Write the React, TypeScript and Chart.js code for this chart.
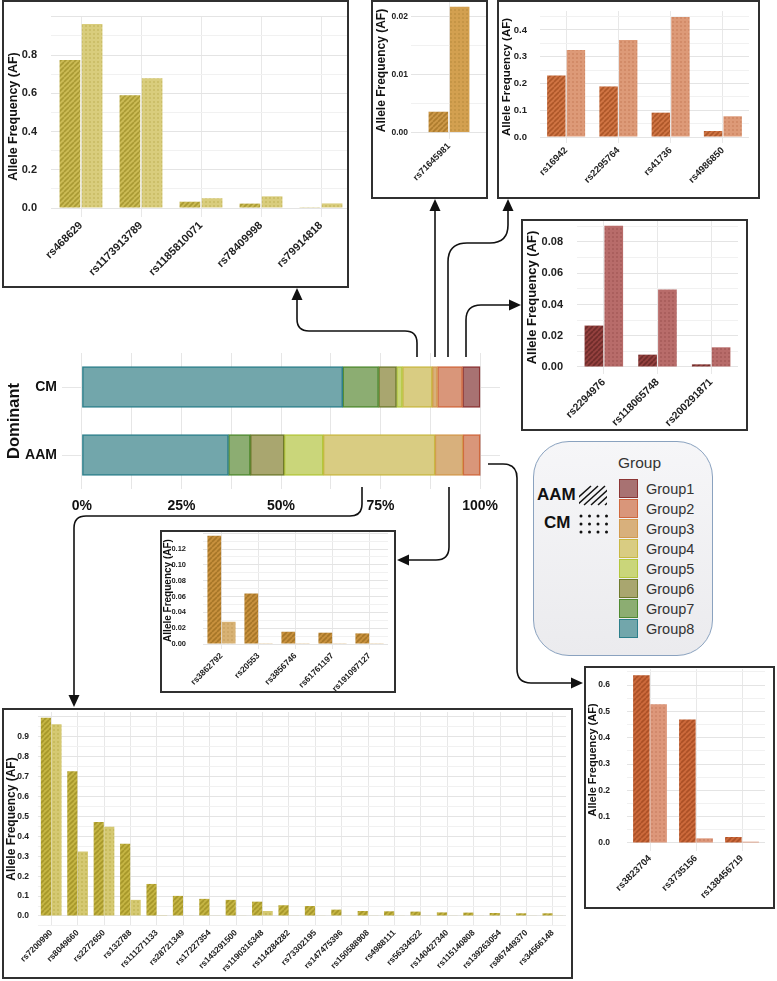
import React, { useEffect, useRef } from 'react';
import { Chart, registerables } from 'chart.js';
Chart.register(...registerables);

const FONT = "'Liberation Sans', Arial, Helvetica, sans-serif";

// ---------- Main stacked bar (share of SNPs per group, %) ----------
const stackRows = ['CM', 'AAM'];
const stackGroups = ['Group8', 'Group7', 'Group6', 'Group5', 'Group4', 'Group3', 'Group2', 'Group1'];
const cmShare = [65.5, 9.0, 4.5, 1.5, 7.5, 1.3, 6.3, 4.4];
const aamShare = [36.8, 5.5, 8.5, 9.8, 28.1, 7.0, 4.3, 0];
const percentTicks = [0, 25, 50, 75, 100];

// ---------- Legend ----------
const legendGroups = ['Group1', 'Group2', 'Group3', 'Group4', 'Group5', 'Group6', 'Group7', 'Group8'];
const groupFill = ['#a87272', '#d9967a', '#d8b07c', '#d9cc82', '#cad67a', '#a9a66f', '#8cad72', '#72a6ab'];
const groupEdge = ['#8c3535', '#d0683e', '#d39a4e', '#c9b843', '#b3c63c', '#6f7a2c', '#4f8a30', '#2d7f8b'];

// ---------- Allele frequency panels ----------
const tlSnps = ['rs468629', 'rs1173913789', 'rs1185810071', 'rs78409998', 'rs79914818'];
const tlAAM = [0.774, 0.589, 0.033, 0.023, 0.004];
const tlCM = [0.962, 0.679, 0.051, 0.061, 0.024];

const tmSnps = ['rs71645981'];
const tmAAM = [0.0036];
const tmCM = [0.0217];

const trSnps = ['rs16942', 'rs2295764', 'rs41736', 'rs4986850'];
const trAAM = [0.23, 0.189, 0.091, 0.0225];
const trCM = [0.325, 0.3625, 0.449, 0.0775];

const mrSnps = ['rs2294976', 'rs118065748', 'rs200291871'];
const mrAAM = [0.0265, 0.0079, 0.0017];
const mrCM = [0.0904, 0.0495, 0.0126];

const msSnps = ['rs3862792', 'rs20553', 'rs3856746', 'rs61761197', 'rs191097127'];
const msAAM = [0.1368, 0.0638, 0.0155, 0.0143, 0.0134];
const msCM = [0.0281, 0.001, 0.001, 0.001, 0.001];

const blSnps = ['rs7200990', 'rs8049660', 'rs2272650', 'rs132788', 'rs111271133', 'rs28721349', 'rs17227354',
  'rs143291500', 'rs1190316348', 'rs114284282', 'rs73302195', 'rs147475396', 'rs150588908', 'rs4988111',
  'rs56334522', 'rs140427340', 'rs115140808', 'rs139263054', 'rs867449370', 'rs34566148'];
const blAAM = [0.996, 0.727, 0.472, 0.363, 0.161, 0.101, 0.086, 0.081, 0.072, 0.054, 0.05, 0.032, 0.025,
  0.0235, 0.022, 0.018, 0.017, 0.015, 0.0135, 0.0135];
const blCM = [0.964, 0.324, 0.448, 0.081, 0.004, 0.003, 0.003, 0.003, 0.025, 0.003, 0.002, 0.002, 0.002,
  0.002, 0.002, 0.002, 0.002, 0.002, 0.002, 0.002];

const brSnps = ['rs3823704', 'rs3735156', 'rs138456719'];
const brAAM = [0.637, 0.469, 0.0227];
const brCM = [0.527, 0.0177, 0.005];

function makeHatch(base: string, stripe: string, size = 5, lw = 1.6) {
  const c = document.createElement('canvas');
  c.width = size; c.height = size;
  const g = c.getContext('2d')!;
  g.fillStyle = base; g.fillRect(0, 0, size, size);
  g.strokeStyle = stripe; g.lineWidth = lw;
  g.beginPath();
  for (const k of [-size, 0, size]) { g.moveTo(k, size); g.lineTo(k + size, 0); }
  g.stroke();
  return g.createPattern(c, 'repeat')!;
}
function makeDots(base: string, dot: string, size = 4, r = 0.8) {
  const c = document.createElement('canvas');
  c.width = size; c.height = size;
  const g = c.getContext('2d')!;
  g.fillStyle = base; g.fillRect(0, 0, size, size);
  g.fillStyle = dot; g.beginPath(); g.arc(size / 2, size / 2, r, 0, Math.PI * 2); g.fill();
  return g.createPattern(c, 'repeat')!;
}

type PanelProps = {
  box: number[]; plot: number[];
  labels: string[]; aam: number[]; cm: number[];
  yMin: number; yMax: number; minor: number; major: number; labelMax: number; decimals: number;
  aamCol: string[]; cmCol: string[];
  yFont: number; xFont: number; titleFont: number; titlePad: number; tickPad: number;
  catPct: number; barPct: number;
};

function AFPanel(p: PanelProps) {
  const ref = useRef<HTMLCanvasElement>(null);
  const [L, T, R, B] = p.box;
  const bw = 2;
  const iL = L + bw, iT = T + bw, iB = B - bw;
  const cTop = iT - 30;
  const cw = Math.ceil(p.plot[2] - iL);
  const ch = iB - cTop;
  useEffect(() => {
    const isMajor = (v: number) => Math.abs(v / p.major - Math.round(v / p.major)) < 1e-6;
    const chart = new Chart(ref.current!, {
      type: 'bar',
      data: {
        labels: p.labels,
        datasets: [
          { label: 'AAM', data: p.aam, backgroundColor: makeHatch(p.aamCol[0], p.aamCol[1]), borderWidth: 0,
            categoryPercentage: p.catPct, barPercentage: p.barPct },
          { label: 'CM', data: p.cm, backgroundColor: makeDots(p.cmCol[0], p.cmCol[1]), borderWidth: 0,
            categoryPercentage: p.catPct, barPercentage: p.barPct },
        ],
      },
      options: {
        responsive: false, animation: false, devicePixelRatio: 1,
        layout: { padding: { top: p.plot[1] - cTop, left: 0, right: 0, bottom: 0 } },
        plugins: { legend: { display: false }, tooltip: { enabled: false } },
        scales: {
          x: {
            type: 'category',
            grid: { offset: false, color: '#e8e8e8', drawTicks: false },
            border: { display: false },
            ticks: { autoSkip: false, maxRotation: 45, minRotation: 45, padding: 2, color: '#222',
              font: { family: FONT, size: p.xFont, weight: 'bold' } },
            afterFit: (s: any) => { s.height = iB - p.plot[3]; },
          },
          y: {
            min: p.yMin, max: p.yMax,
            grid: {
              drawTicks: false,
              color: (c: any) => (c.tick && isMajor(c.tick.value) ? '#e4e4e4' : '#f1f1f1'),
            },
            border: { display: false },
            ticks: {
              stepSize: p.minor, includeBounds: false, autoSkip: false, padding: p.tickPad, color: '#222',
              font: { family: FONT, size: p.yFont, weight: 'bold' },
              callback: (v: any) => (isMajor(v) && v <= p.labelMax + 1e-9 ? Number(v).toFixed(p.decimals) : ''),
            },
            title: { display: true, text: 'Allele Frequency (AF)', color: '#111',
              font: { family: FONT, size: p.titleFont, weight: 'bold' }, padding: { top: p.titlePad, bottom: 0 } },
            afterFit: (s: any) => { s.width = p.plot[0] - iL; },
          },
        },
      } as any,
    });
    return () => chart.destroy();
  }, []);
  return (
    <div style={{ position: 'absolute', left: L, top: T, width: R - L, height: B - T, boxSizing: 'border-box',
      border: '2px solid #303030', overflow: 'hidden', background: '#fff' }}>
      <canvas ref={ref} width={cw} height={ch}
        style={{ position: 'absolute', left: 0, top: cTop - iT, width: cw, height: ch }} />
    </div>
  );
}

function StackChart() {
  const ref = useRef<HTMLCanvasElement>(null);
  useEffect(() => {
    const chart = new Chart(ref.current!, {
      type: 'bar',
      data: {
        labels: stackRows,
        datasets: stackGroups.map((g, i) => {
          const gi = legendGroups.indexOf(g);
          return {
            label: g, data: [cmShare[i], aamShare[i]],
            backgroundColor: groupFill[gi], borderColor: groupEdge[gi],
            borderWidth: (c: any) => (c.raw ? 1.5 : 0), borderSkipped: false, barThickness: 41,
          };
        }),
      },
      options: {
        indexAxis: 'y', responsive: false, animation: false, devicePixelRatio: 1,
        layout: { padding: { top: 23, right: 30, left: 0, bottom: 0 } },
        plugins: { legend: { display: false }, tooltip: { enabled: false } },
        scales: {
          x: {
            type: 'linear', stacked: true, min: -5, max: 105,
            grid: { color: '#e6e6e6', drawTicks: false }, border: { display: false },
            ticks: { stepSize: 12.5, includeBounds: false, autoSkip: false, maxRotation: 0, padding: 9, color: '#111',
              font: { family: FONT, size: 14, weight: 'bold' },
              callback: (v: any) => (percentTicks.includes(v) ? v + '%' : '') },
            afterFit: (s: any) => { s.height = 41; },
          },
          y: {
            type: 'category', stacked: true,
            grid: { offset: false, color: '#e6e6e6', drawTicks: false }, border: { display: false },
            ticks: { padding: 5, color: '#111', font: { family: FONT, size: 14, weight: 'bold' } },
            title: { display: true, text: 'Dominant', color: '#111',
              font: { family: FONT, size: 16.5, weight: 'bold' }, padding: { top: 5, bottom: 0 } },
            afterFit: (s: any) => { s.width = 62; },
          },
        },
      } as any,
    });
    return () => chart.destroy();
  }, []);
  return <canvas ref={ref} width={530} height={200}
    style={{ position: 'absolute', left: 0, top: 330, width: 530, height: 200 }} />;
}

function head(x: number, y: number, dir: 'up' | 'down' | 'left' | 'right') {
  const l = 12, w = 5.5;
  let pts = '';
  if (dir === 'up') pts = `${x},${y} ${x - w},${y + l} ${x + w},${y + l}`;
  if (dir === 'down') pts = `${x},${y} ${x - w},${y - l} ${x + w},${y - l}`;
  if (dir === 'left') pts = `${x},${y} ${x + l},${y - w} ${x + l},${y + w}`;
  if (dir === 'right') pts = `${x},${y} ${x - l},${y - w} ${x - l},${y + w}`;
  return <polygon points={pts} fill="#111" />;
}

function Arrows() {
  const paths = [
    'M417,357 V343 Q417,331 405,331 H309 Q297,331 297,319 V299',
    'M435,357 V210',
    'M448,357 V262 Q448,243 467,243 H490 Q508,243 508,225 V210',
    'M466,357 V320 Q466,305 481,305 H510',
    'M362,487 V504 Q362,516 350,516 H86 Q74,516 74,528 V696',
    'M449,487 V547 Q449,560 436,560 H408',
    'M488,464 H503 Q517,464 517,478 V669 Q517,683 531,683 H572',
  ];
  return (
    <svg width={777} height={981} style={{ position: 'absolute', left: 0, top: 0, pointerEvents: 'none', zIndex: 5 }}>
      {paths.map((d, i) => <path key={i} d={d} fill="none" stroke="#111" strokeWidth={1.6} />)}
      {head(297, 288, 'up')}
      {head(435, 199, 'up')}
      {head(508, 199, 'up')}
      {head(521, 305, 'right')}
      {head(74, 707, 'down')}
      {head(397, 560, 'left')}
      {head(583, 683, 'right')}
    </svg>
  );
}

function Legend() {
  const dots: React.ReactElement[] = [];
  for (let r = 0; r < 3; r++) for (let c = 0; c < 4; c++)
    dots.push(<circle key={`${r}-${c}`} cx={581 + c * 8.5} cy={516 + r * 8} r={1.5} fill="#111" />);
  const lines: React.ReactElement[] = [];
  for (let k = 0; k < 6; k++) {
    const x1 = 570 + k * 7;
    lines.push(<line key={k} x1={x1} y1={505} x2={x1 + 21} y2={486} stroke="#111" strokeWidth={1.5} />);
  }
  return (
    <>
      <div style={{ position: 'absolute', left: 533, top: 441, width: 180, height: 215, boxSizing: 'border-box',
        border: '1.5px solid #8aa2bf', borderRadius: 36, background: 'linear-gradient(#f6f6f8, #ebebee)', zIndex: 3 }} />
      <div style={{ position: 'absolute', left: 618, top: 454, fontFamily: FONT, fontSize: 15.5, color: '#333', zIndex: 4 }}>Group</div>
      {legendGroups.map((g, i) => (
        <React.Fragment key={g}>
          <div style={{ position: 'absolute', left: 619, top: 479 + i * 20, width: 19, height: 19, boxSizing: 'border-box',
            background: groupFill[i], border: `1.5px solid ${groupEdge[i]}`, zIndex: 4 }} />
          <div style={{ position: 'absolute', left: 646, top: 481 + i * 20, fontFamily: FONT, fontSize: 14.5,
            lineHeight: '17px', color: '#333', zIndex: 4 }}>{g}</div>
        </React.Fragment>
      ))}
      <div style={{ position: 'absolute', left: 537, top: 485, fontFamily: FONT, fontSize: 17, fontWeight: 'bold',
        lineHeight: '20px', color: '#111', zIndex: 4 }}>AAM</div>
      <div style={{ position: 'absolute', left: 544, top: 513, fontFamily: FONT, fontSize: 17, fontWeight: 'bold',
        lineHeight: '20px', color: '#111', zIndex: 4 }}>CM</div>
      <svg width={777} height={981} style={{ position: 'absolute', left: 0, top: 0, pointerEvents: 'none', zIndex: 4 }}>
        <defs>
          <clipPath id="hatchClip"><rect x={579} y={485} width={28} height={21} /></clipPath>
        </defs>
        <g clipPath="url(#hatchClip)">{lines}</g>
        {dots}
      </svg>
    </>
  );
}

export default function App() {
  return (
    <div style={{ position: 'absolute', left: 0, top: 0, width: 777, height: 981, overflow: 'hidden', background: '#fff' }}>
      <StackChart />
      {/* Group4 CM */}
      <AFPanel box={[2, 0, 349, 288]} plot={[51, 16, 351, 217]} labels={tlSnps} aam={tlAAM} cm={tlCM}
        yMin={-0.047} yMax={1.004} minor={0.1} major={0.2} labelMax={0.8} decimals={1}
        aamCol={['#cbbb55', '#a99a34']} cmCol={['#d9cd7d', '#bcad50']}
        yFont={11} xFont={11} titleFont={12.5} titlePad={2} tickPad={14} catPct={0.74} barPct={0.93} />
      {/* Group3 CM */}
      <AFPanel box={[371, 0, 488, 199]} plot={[411, 2, 487, 139]} labels={tmSnps} aam={tmAAM} cm={tmCM}
        yMin={-0.0011} yMax={0.0225} minor={0.005} major={0.01} labelMax={0.02} decimals={2}
        aamCol={['#cc9848', '#ad7c2e']} cmCol={['#d3a050', '#b5873a']}
        yFont={8.5} xFont={9} titleFont={12} titlePad={1} tickPad={3} catPct={0.56} barPct={0.92} />
      {/* Group2 CM */}
      <AFPanel box={[497, 0, 760, 199]} plot={[540, 11, 749, 143]} labels={trSnps} aam={trAAM} cm={trCM}
        yMin={-0.0224} yMax={0.471} minor={0.05} major={0.1} labelMax={0.4} decimals={1}
        aamCol={['#cf7444', '#ad5729']} cmCol={['#dd9a78', '#c47a56']}
        yFont={9.5} xFont={9.5} titleFont={11.5} titlePad={1} tickPad={13} catPct={0.75} barPct={0.94} />
      {/* Group1 CM */}
      <AFPanel box={[521, 219, 748, 431]} plot={[577, 221, 738, 374]} labels={mrSnps} aam={mrAAM} cm={mrCM}
        yMin={-0.00448} yMax={0.0934} minor={0.01} major={0.02} labelMax={0.08} decimals={2}
        aamCol={['#94413f', '#6e2c2a']} cmCol={['#b86c6a', '#98504e']}
        yFont={11} xFont={10.5} titleFont={13} titlePad={2} tickPad={14} catPct={0.74} barPct={0.94} />
      {/* Group3 AAM */}
      <AFPanel box={[160, 530, 396, 693]} plot={[203, 532, 388, 649]} labels={msSnps} aam={msAAM} cm={msCM}
        yMin={-0.0063} yMax={0.1415} minor={0.01} major={0.02} labelMax={0.12} decimals={2}
        aamCol={['#c8913e', '#a67628']} cmCol={['#d8b274', '#c29a58']}
        yFont={7.5} xFont={8.5} titleFont={10} titlePad={0} tickPad={17} catPct={0.78} barPct={0.95} />
      {/* Group4 AAM */}
      <AFPanel box={[2, 708, 573, 979]} plot={[38, 712, 566, 926]} labels={blSnps} aam={blAAM} cm={blCM}
        yMin={-0.0503} yMax={1.025} minor={0.05} major={0.1} labelMax={0.9} decimals={1}
        aamCol={['#c5b544', '#a6972a']} cmCol={['#d5c972', '#b9ab46']}
        yFont={8.5} xFont={8.5} titleFont={12} titlePad={0} tickPad={9} catPct={0.8} barPct={0.96} />
      {/* Group2 AAM */}
      <AFPanel box={[584, 666, 775, 909]} plot={[627, 669, 765, 851]} labels={brSnps} aam={brAAM} cm={brCM}
        yMin={-0.0304} yMax={0.661} minor={0.05} major={0.1} labelMax={0.6} decimals={1}
        aamCol={['#cc6a3c', '#ab5026']} cmCol={['#dd977a', '#c27a5c']}
        yFont={8.5} xFont={9.5} titleFont={11} titlePad={0} tickPad={17} catPct={0.75} barPct={0.96} />
      <Legend />
      <Arrows />
    </div>
  );
}
